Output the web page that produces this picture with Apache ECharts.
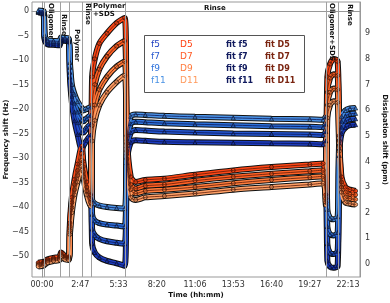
<!DOCTYPE html>
<html><head><meta charset="utf-8">
<script src="https://cdn.jsdelivr.net/npm/echarts@6/dist/echarts.min.js"></script>
<style>html,body{margin:0;padding:0;background:#fff}#c{width:390px;height:303px}</style>
</head><body><div id="c"></div>
<script>
// ---- data (time in seconds) ----
const time = [-1000, 400, 700, 1500, 3000, 4600, 5000, 6000, 7000, 7300, 7800, 8500, 9300, 10400, 10800, 11700, 12700, 13100, 13800, 15000, 17000, 19500, 21600, 22200, 23200, 24500, 27000, 32000, 40000, 50000, 60000, 70000, 73500, 74200, 74600, 75300, 76300, 77300, 77700, 78300, 79300, 80500, 82000];

const f11 = [0.1, 0.0, -5.0, -6.0, -6.1, -6.2, -5.4, -5.5, -5.7, -10.5, -15.0, -17.0, -18.5, -19.8, -20.3, -20.0, -19.6, -38.5, -39.3, -39.7, -40.0, -40.2, -40.3, -26.0, -21.5, -21.1, -21.2, -21.4, -21.6, -21.8, -22.0, -22.1, -22.2, -21.6, -40.5, -42.3, -42.5, -42.0, -26.0, -21.5, -20.3, -19.9, -19.8];
const f9 = [-0.1, -0.2, -5.3, -6.2, -6.3, -6.4, -5.6, -5.7, -5.9, -11.5, -16.2, -18.8, -20.6, -22.2, -22.5, -21.9, -21.3, -41.5, -42.8, -43.3, -43.6, -43.8, -44.0, -27.5, -23.0, -22.6, -22.7, -22.9, -23.1, -23.3, -23.5, -23.6, -23.7, -23.1, -44.0, -45.6, -45.8, -45.2, -27.0, -22.5, -21.4, -21.0, -20.9];
const f7 = [-0.2, -0.4, -5.6, -6.5, -6.6, -6.7, -5.8, -5.9, -6.1, -12.5, -17.4, -20.6, -22.8, -24.8, -24.8, -23.9, -23.1, -44.5, -45.8, -46.5, -47.0, -47.3, -47.5, -29.0, -24.8, -24.3, -24.4, -24.6, -24.8, -25.0, -25.1, -25.2, -25.3, -24.6, -47.5, -49.4, -49.6, -49.0, -28.0, -23.7, -22.5, -22.1, -22.0];
const f5 = [-0.3, -0.6, -5.9, -6.8, -6.9, -7.0, -6.0, -6.1, -6.3, -13.5, -18.6, -22.4, -25.2, -28.3, -27.5, -26.4, -25.3, -47.5, -49.3, -50.3, -51.0, -51.5, -52.0, -31.0, -26.8, -26.4, -26.5, -26.7, -26.8, -26.9, -27.0, -27.1, -27.2, -26.5, -51.0, -52.2, -52.4, -52.0, -29.5, -25.0, -23.8, -23.3, -23.2];

const D5 = [0.05, 0.08, 0.1, 0.18, 0.24, 0.28, 0.45, 0.3, 0.28, 1.6, 2.6, 3.3, 3.9, 4.6, 4.0, 3.2, 2.7, 7.3, 8.0, 8.6, 9.0, 9.4, 9.6, 5.0, 3.4, 3.2, 3.28, 3.33, 3.48, 3.65, 3.78, 3.88, 3.92, 2.7, 7.3, 7.8, 8.0, 7.9, 5.0, 3.4, 3.0, 2.9, 2.85];
const D7 = [0.0, 0.03, 0.06, 0.14, 0.2, 0.24, 0.4, 0.26, 0.24, 1.45, 2.4, 3.1, 3.65, 4.3, 3.8, 3.0, 2.55, 6.2, 7.0, 7.6, 8.1, 8.5, 8.7, 4.7, 3.1, 2.95, 3.05, 3.1, 3.25, 3.4, 3.52, 3.62, 3.66, 2.55, 6.7, 7.25, 7.4, 7.35, 4.8, 3.2, 2.8, 2.72, 2.7];
const D9 = [-0.05, -0.02, 0.02, 0.1, 0.16, 0.2, 0.35, 0.22, 0.2, 1.3, 2.2, 2.9, 3.45, 4.05, 3.6, 2.85, 2.4, 5.4, 6.2, 6.8, 7.3, 7.7, 7.9, 4.4, 2.9, 2.75, 2.85, 2.9, 3.0, 3.15, 3.28, 3.38, 3.42, 2.4, 6.2, 6.7, 6.85, 6.8, 4.6, 3.0, 2.6, 2.55, 2.52];
const D11 = [-0.1, -0.06, -0.02, 0.06, 0.12, 0.16, 0.3, 0.18, 0.16, 1.15, 2.0, 2.7, 3.2, 3.8, 3.4, 2.7, 2.25, 4.8, 5.6, 6.2, 6.7, 7.1, 7.35, 4.1, 2.6, 2.5, 2.6, 2.65, 2.75, 2.9, 3.0, 3.1, 3.15, 2.3, 5.7, 6.2, 6.35, 6.3, 4.4, 2.8, 2.4, 2.35, 2.32];

const xTickValues = [0, 10000, 20000, 30000, 40000, 50000, 60000, 70000, 80000];
const xTickLabels = ["00:00", "2:47", "5:33", "8:20", "11:06", "13:53", "16:40", "19:27", "22:13"];
const freqTicks = [0, -5, -10, -15, -20, -25, -30, -35, -40, -45, -50];
const dissTicks = [0, 1, 2, 3, 4, 5, 6, 7, 8, 9];

const phaseBounds = [500, 4700, 7050, 10450, 12800, 21700, 74250, 77400];
const phaseLabelText = ["Oligomer", "Rinse", "Polymer", "Rinse", "Polymer\n+SDS", "Rinse", "Oligomer+SDS", "Rinse"];
const phaseLabelTime = [2350, 5750, 9150, 11900, 13330, 45200, 75700, 80500];

const freqNames = ["f5", "f7", "f9", "f11"];
const dissNames = ["D5", "D7", "D9", "D11"];
const fitFreqNames = ["fit f5", "fit f7", "fit f9", "fit f11"];
const fitDissNames = ["fit D5", "fit D7", "fit D9", "fit D11"];

// ---- styles ----
const FONT = '"DejaVu Sans", sans-serif';
const freqColors = ["#1c3cbf", "#2456cf", "#2d72dc", "#4b93e6"];
const dissColors = ["#ff4716", "#ff6125", "#ff7d3c", "#ffa066"];
const freqLegendColors = ["#1f3fc0", "#2a5bd0", "#2d72dc", "#4a92e4"];
const dissLegendColors = ["#ff4010", "#ff5a24", "#ff7a3c", "#ff9a5c"];
const fitFreqColor = "#0c1552";
const fitDissColor = "#5a1a08";
const fitFreqLegend = "#101a5e";
const fitDissLegend = "#7a2410";

const pairs = arr => time.map((t, i) => [t, arr[i]]);

const series = [];
series.push({
  type: 'line', data: [], z: 1, silent: true,
  markLine: {
    silent: true, symbol: 'none', animation: false,
    label: { show: false },
    lineStyle: { color: '#a0a0a0', width: 1, type: 'solid' },
    data: phaseBounds.map(t => ({ xAxis: t }))
  }
});

function addGroup(names, fitNames, arrays, colors, fitColor, yIdx, sym) {
  names.forEach((n, i) => {
    const d = pairs(arrays[i]);
    series.push({
      name: n + ' edge', type: 'line', yAxisIndex: yIdx, data: d, smooth: 0.3,
      showSymbol: false, silent: true, z: 2,
      lineStyle: { color: '#111', width: 6 }
    });
    series.push({
      name: n, type: 'line', yAxisIndex: yIdx, data: d, smooth: 0.3,
      symbol: sym, symbolSize: 4, showSymbol: true, z: 3,
      itemStyle: { color: colors[i], borderColor: '#000', borderWidth: 0.6 },
      lineStyle: { color: colors[i], width: 4 }
    });
    series.push({
      name: fitNames[i], type: 'line', yAxisIndex: yIdx, data: d, smooth: 0.3,
      showSymbol: false, z: 4, silent: true,
      itemStyle: { color: fitColor },
      lineStyle: { color: fitColor, width: 0.8 }
    });
  });
}
addGroup(freqNames, fitFreqNames, [f5, f7, f9, f11], freqColors, fitFreqColor, 0, 'triangle');
addGroup(dissNames, fitDissNames, [D5, D7, D9, D11], dissColors, fitDissColor, 1, 'circle');

function legendCol(names, colors, left, bold, size) {
  return {
    orient: 'vertical', left: left, top: 39, padding: 0, itemGap: 0,
    itemWidth: 0, itemHeight: 0, icon: 'rect', selectedMode: false,
    itemStyle: { opacity: 0 },
    textStyle: { fontFamily: FONT, fontSize: size, fontWeight: bold ? 'bold' : 'normal', lineHeight: 12 },
    data: names.map((n, i) => ({ name: n, textStyle: { color: colors[i] } }))
  };
}

const axisNameStyle = { fontFamily: FONT, fontWeight: 'bold', fontSize: 7, color: '#111' };
const tickStyle = { fontFamily: FONT, fontSize: 8, color: '#333' };

const option = {
  animation: false,
  backgroundColor: '#fff',
  grid: { left: 32, right: 30, top: 2, bottom: 26, containLabel: false, outerBoundsMode: 'none',
          show: true, borderColor: '#999', borderWidth: 1, backgroundColor: 'transparent' },
  xAxis: {
    type: 'value', min: -2614, max: 83137,
    name: 'Time (hh:mm)', nameLocation: 'middle', nameGap: 15, nameMoveOverlap: false, nameTextStyle: axisNameStyle,
    axisLine: { show: true, lineStyle: { color: '#999' } },
    axisTick: { show: false },
    splitLine: { show: false },
    axisLabel: Object.assign({ customValues: xTickValues, margin: 4, showMinLabel: true, showMaxLabel: true,
      formatter: v => { const k = xTickValues.indexOf(v); return k >= 0 ? xTickLabels[k] : ''; } }, tickStyle)
  },
  yAxis: [{
    type: 'value', min: -54.29, max: 1.84, position: 'left',
    name: 'Frequency shift (Hz)', nameLocation: 'middle', nameRotate: 90, nameGap: 22, nameMoveOverlap: false, nameTextStyle: axisNameStyle,
    axisLine: { show: true, lineStyle: { color: '#999' } },
    axisTick: { show: false }, splitLine: { show: false },
    axisLabel: Object.assign({ customValues: freqTicks, margin: 3,
      formatter: v => String(v).replace('-', '\u2212') }, tickStyle)
  }, {
    type: 'value', min: -0.507, max: 10.22, position: 'right',
    name: 'Dissipation shift (ppm)', nameLocation: 'middle', nameRotate: -90, nameGap: 21, nameMoveOverlap: false, nameTextStyle: axisNameStyle,
    axisLine: { show: true, lineStyle: { color: '#999' } },
    axisTick: { show: false }, splitLine: { show: false },
    axisLabel: Object.assign({ customValues: dissTicks, margin: 5, formatter: v => String(v) }, tickStyle)
  }],
  legend: [
    legendCol(freqNames, freqLegendColors, 145, false, 9),
    legendCol(dissNames, dissLegendColors, 174, false, 9),
    legendCol(fitFreqNames, freqNames.map(() => fitFreqLegend), 221, true, 8),
    legendCol(fitDissNames, dissNames.map(() => fitDissLegend), 260, true, 8)
  ],
  series: series
};

const chart = echarts.init(document.getElementById('c'), null, { renderer: 'canvas' });
chart.setOption(option);

// phase labels & legend frame
const labelLayout = [
  { vertical: true, top: 3 }, { vertical: true, top: 14 }, { vertical: true, top: 29 }, { vertical: true, top: 3 },
  { vertical: false, top: 2, align: 'left' }, { vertical: false, top: 4, align: 'center' },
  { vertical: true, top: 3 }, { vertical: true, top: 4 }
];
const graphics = [{
  type: 'rect', z: 3, shape: { x: 144.5, y: 35.5, width: 160, height: 57 },
  style: { fill: '#fff', stroke: '#555', lineWidth: 1 }
}];
phaseLabelText.forEach((txt, i) => {
  const px = chart.convertToPixel({ xAxisIndex: 0 }, phaseLabelTime[i]);
  const L = labelLayout[i];
  const st = { text: txt, fill: '#111', font: 'bold 7px "DejaVu Sans"', lineHeight: 8 };
  if (L.vertical) {
    Object.assign(st, { align: 'left', textAlign: 'left', verticalAlign: 'middle', textVerticalAlign: 'middle' });
    graphics.push({ type: 'text', z: 10, x: px, y: L.top, rotation: -Math.PI / 2, style: st });
  } else {
    Object.assign(st, { align: L.align, textAlign: L.align, verticalAlign: 'top', textVerticalAlign: 'top' });
    graphics.push({ type: 'text', z: 10, x: px, y: L.top, style: st });
  }
});
chart.setOption({ graphic: graphics });
</script>
</body></html>
